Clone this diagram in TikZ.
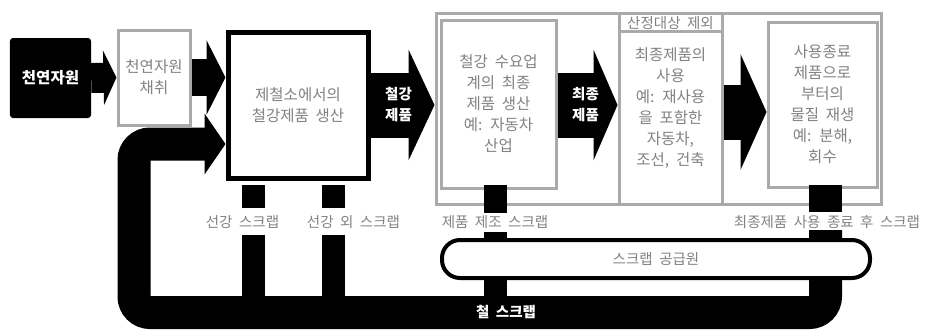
\documentclass[tikz,border=0pt]{standalone}
\usepackage{fontspec}
\newfontfamily\kr[WordSpace=2]{Noto Sans CJK KR}
\usetikzlibrary{arrows.meta,calc,positioning}
\definecolor{boxgray}{RGB}{170,170,170}
\definecolor{textgray}{RGB}{130,130,130}

\begin{document}
\begin{tikzpicture}[x=1bp, y=-1bp,
  graybox/.style={draw=boxgray, line width=3bp, fill=white, align=center,
    text=textgray, font=\kr\fontsize{15.5bp}{21bp}\selectfont, inner sep=0pt},
  blackarrow/.style={line width=#1, draw=black},
  label/.style={text=textgray, font=\kr\fontsize{14.5bp}{16bp}\selectfont, inner sep=1pt},
  arrowtext/.style={text=white, align=center, font=\kr\bfseries\fontsize{14.5bp}{21bp}\selectfont},
  scrap/.style={line width=23bp, draw=black}]
  \useasboundingbox (0,0) rectangle (941,330);

  % boxes
  \node[fill=black, rounded corners=3bp, minimum width=81bp, minimum height=80bp,
    text=white, font=\kr\bfseries\fontsize{15.5bp}{18bp}\selectfont] (resource) at (50.5,78) {천연자원};
  \node[graybox, minimum width=72bp, minimum height=95bp] (mining) at (154,77.5) {천연자원\\채취};
  \node[graybox, draw=black, line width=5bp, minimum width=140bp, minimum height=146bp] (mill) at (298,105) {제철소에서의\\철강제품 생산};
  \node[draw=boxgray, line width=3bp, minimum width=445bp, minimum height=191bp] (scope) at (658.5,108.5) {};
  \node[graybox, minimum width=115bp, minimum height=168bp] (product) at (498.5,104) {철강 수요업\\계의 최종\\제품 생산\\예: 자동차\\산업};
  \node[graybox, minimum width=103bp, minimum height=191bp] (use) at (670.5,108.5) {최종제품의\\사용\\예: 재사용\\을 포함한\\자동차,\\조선, 건축};
  \draw[boxgray, line width=3bp] ([yshift=-20bp]use.north west) -- ([yshift=-20bp]use.north east);
  \node[label] (exclude) at (670.5,23) {산정대상 제외};
  \node[graybox, minimum width=109bp, minimum height=165bp] (recover) at (822.5,104.5) {사용종료\\제품으로\\부터의\\물질 재생\\예: 분해,\\회수};

  % flow arrows
  \draw[blackarrow=30bp, -{Triangle[length=13bp, width=54bp]}] (resource.east) -- (mining.west);
  \draw[blackarrow=37bp, -{Triangle[length=19bp, width=74bp]}] (mining.east) -- (mining.east -| mill.west);
  \draw[blackarrow=65bp, -{Triangle[length=26bp, width=110bp]}] (mill.east) -- node[arrowtext, xshift=-4bp] {철강\\제품} (mill.east -| scope.west);
  \draw[blackarrow=65bp, -{Triangle[length=24bp, width=110bp]}] ([yshift=-1bp]product.east) -- node[arrowtext, xshift=-2bp] {최종\\제품} ([yshift=-1bp]product.east -| use.west);
  \draw[blackarrow=55bp, -{Triangle[length=26bp, width=115bp]}] ([yshift=-3.5bp]use.east) -- ([yshift=-3.5bp]use.east -| recover.west);

  % scrap return loop
  \draw[blackarrow=33bp, rounded corners=16bp, -{Triangle[length=21bp, width=60bp]}]
    (825.5,230) -- (825.5,312.5) -- (134,312.5) -- (134,144) -- (mill.west |- 0,144);
  \draw[blackarrow=33bp] (825.5,185) -- (825.5,212);
  \draw[scrap] (253.5,185) -- (253.5,208);
  \draw[scrap] (253.5,235) -- (253.5,297);
  \draw[scrap] (333.5,185) -- (333.5,208);
  \draw[scrap] (333.5,235) -- (333.5,297);
  \draw[scrap] (495.5,185) -- (495.5,213);
  \draw[scrap] (495.5,232) -- (495.5,297);

  \node[draw=black, line width=4bp, fill=white, rounded corners=18bp, minimum width=428bp,
    minimum height=38bp, text=textgray, font=\kr\fontsize{14.5bp}{16bp}\selectfont] (source) at (656,259) {스크랩 공급원};
  \node[arrowtext, font=\kr\bfseries\fontsize{14.5bp}{16bp}\selectfont] (iron) at (506,312) {철 스크랩};

  % scrap labels
  \node[label] (pigscrap) at (242.5,222) {선강 스크랩};
  \node[label] (otherscrap) at (353.5,222) {선강 외 스크랩};
  \node[label] (makescrap) at (495,222) {제품 제조 스크랩};
  \node[label] (endscrap) at (827,222) {최종제품 사용 종료 후 스크랩};
\end{tikzpicture}
\end{document}
